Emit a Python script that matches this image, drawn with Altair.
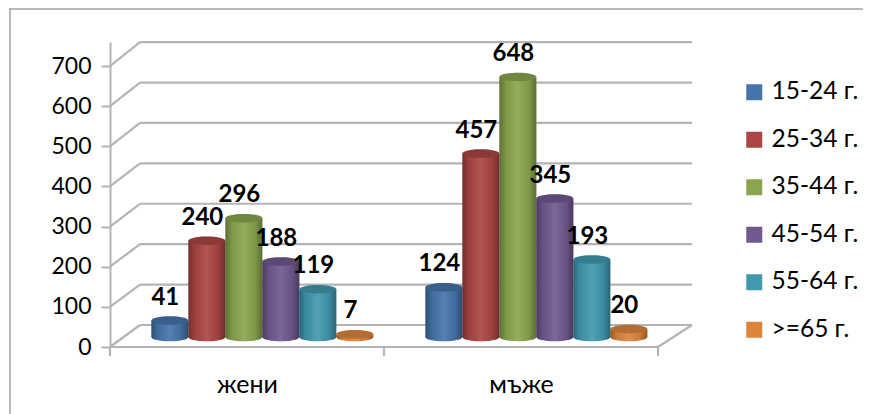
import altair as alt
import pandas as pd

categories = ["жени", "мъже"]
series = ["15-24 г.", "25-34 г.", "35-44 г.", "45-54 г.", "55-64 г.", ">=65 г."]
women = [41, 240, 296, 188, 119, 7]
men = [124, 457, 648, 345, 193, 20]
colors = ["#4674AA", "#AA4644", "#89A54E", "#71588F", "#4198AF", "#DB843D"]
ticks = [0, 100, 200, 300, 400, 500, 600, 700]

FONT = "Lato"
GRID = "#b4b4b4"
UNIT_W = 0.135       # one cylinder, in category units
BASE = 25            # cylinders stand half way into the floor, in value units
DEPTH_L, DEPTH_R = 0.1095, 0.124
Y_MAX = 760
X_MAX = 2 + DEPTH_R


def back(v):
    return 54.8 + v * 1.007


rows = []
for i, (cat, vals) in enumerate(zip(categories, [women, men])):
    centre = i + 0.556
    for j, (s, v) in enumerate(zip(series, vals)):
        c = centre + (j - 2.5) * UNIT_W
        rows.append(dict(cat=cat, series=s, order=j, value=v, cx=c,
                         x0=c - UNIT_W / 2, x1=c + UNIT_W / 2,
                         base=BASE, top=BASE + v))
bars = pd.DataFrame(rows)

lines = []
for k, t in enumerate(ticks):
    lines += [dict(id=f"o{k}", x=0, y=t), dict(id=f"o{k}", x=DEPTH_L, y=back(t)),
              dict(id=f"g{k}", x=DEPTH_L, y=back(t)), dict(id=f"g{k}", x=X_MAX, y=back(t))]
lines += [dict(id="f", x=0, y=0), dict(id="f", x=2, y=0),
          dict(id="r", x=2, y=0), dict(id="r", x=X_MAX, y=back(0))]
for k in (0, 1, 2):
    lines += [dict(id=f"t{k}", x=k, y=0), dict(id=f"t{k}", x=k, y=-23)]
lines = pd.DataFrame(lines)

xs = alt.Scale(domain=[0, X_MAX], nice=False, zero=False)
ys = alt.Scale(domain=[0, Y_MAX], nice=False)
cs = alt.Scale(domain=series, range=colors)
X_AXIS = alt.Axis(values=[0.5, 1.5], title=None, ticks=False, domain=False, grid=False,
                  labelExpr="datum.value < 1 ? 'жени' : 'мъже'", labelFont=FONT,
                  labelFontSize=25, labelColor="#000", labelPadding=25, labelAngle=0)
Y_AXIS = alt.Axis(values=ticks, title=None, grid=False, domainColor=GRID, domainWidth=2,
                  tickColor=GRID, tickWidth=2, tickSize=9, labelFont=FONT, labelFontSize=23,
                  labelColor="#000", labelPadding=10)

grid = alt.Chart(lines).mark_line(color=GRID, strokeWidth=2.2).encode(
    x=alt.X("x:Q", scale=xs, axis=X_AXIS),
    y=alt.Y("y:Q", scale=ys, axis=Y_AXIS),
    detail="id:N",
)

frame_top = alt.Chart(pd.DataFrame({"a": [0]})).mark_rule(color="#a0a0a0", strokeWidth=1.5).encode(
    x=alt.value(-100), x2=alt.value(753), y=alt.value(-33))
frame_left = alt.Chart(pd.DataFrame({"a": [0]})).mark_rule(color="#a0a0a0", strokeWidth=1.5).encode(
    x=alt.value(-100), y=alt.value(-34), y2=alt.value(372))

SHADE = alt.Gradient(gradient="linear", x1=0, x2=1, y1=0, y2=0, stops=[
    alt.GradientStop(offset=0, color="rgba(0,0,0,0.32)"),
    alt.GradientStop(offset=0.18, color="rgba(0,0,0,0.08)"),
    alt.GradientStop(offset=0.5, color="rgba(255,255,255,0.09)"),
    alt.GradientStop(offset=0.8, color="rgba(0,0,0,0.08)"),
    alt.GradientStop(offset=1, color="rgba(0,0,0,0.34)"),
])
ELLIPSE = "M-1,0A1,0.23 0 1,1 1,0A1,0.23 0 1,1 -1,0Z"
CYL_SIZE = 37 ** 2

base = alt.Chart(bars)
LEGEND = alt.Legend(
    title=None, orient="none", legendX=632, legendY=38, symbolType="square",
    symbolSize=256, symbolStrokeWidth=0, labelFont=FONT, labelFontSize=24.5,
    labelColor="#000", rowPadding=22.5, labelOffset=5, columns=1)
color = alt.Color("series:N", scale=cs, sort=series, legend=LEGEND)

body = base.mark_bar(stroke=None).encode(
    x=alt.X("x0:Q", scale=xs), x2="x1:Q",
    y=alt.Y("base:Q", scale=ys), y2="top:Q",
    color=color,
)
body_shade = base.mark_bar(fill=SHADE, stroke=None).encode(
    x=alt.X("x0:Q", scale=xs), x2="x1:Q",
    y=alt.Y("base:Q", scale=ys), y2="top:Q",
)
foot = base.mark_point(shape=ELLIPSE, filled=True, size=CYL_SIZE, opacity=1).encode(
    x=alt.X("cx:Q", scale=xs), y=alt.Y("base:Q", scale=ys), color=color)
foot_shade = base.mark_point(shape=ELLIPSE, filled=True, size=CYL_SIZE, fill=SHADE, opacity=1).encode(
    x=alt.X("cx:Q", scale=xs), y=alt.Y("base:Q", scale=ys))
head = base.mark_point(shape=ELLIPSE, filled=True, size=CYL_SIZE, opacity=1).encode(
    x=alt.X("cx:Q", scale=xs), y=alt.Y("top:Q", scale=ys), color=color)
head_shade = base.mark_point(shape=ELLIPSE, filled=True, size=CYL_SIZE, color="#000", opacity=0.18).encode(
    x=alt.X("cx:Q", scale=xs), y=alt.Y("top:Q", scale=ys))
labels = base.mark_text(font=FONT, fontWeight="bold", fontSize=24, color="#000",
                        dx=-4.5, dy=-23, baseline="middle", align="center").encode(
    x=alt.X("cx:Q", scale=xs), y=alt.Y("top:Q", scale=ys), text="value:Q")

chart = alt.layer(frame_top, frame_left, grid, foot, foot_shade, body, body_shade,
                  head, head_shade, labels).resolve_scale(x="shared", y="shared", color="shared").properties(
    width=582, height=305,
    padding={"left": 102, "top": 34, "right": 171, "bottom": 67},
    autosize=alt.AutoSizeParams(type="none"),
    background="#ffffff",
).configure_view(stroke=None)

chart.save("out.html", embed_options={"renderer": "svg", "actions": False})
